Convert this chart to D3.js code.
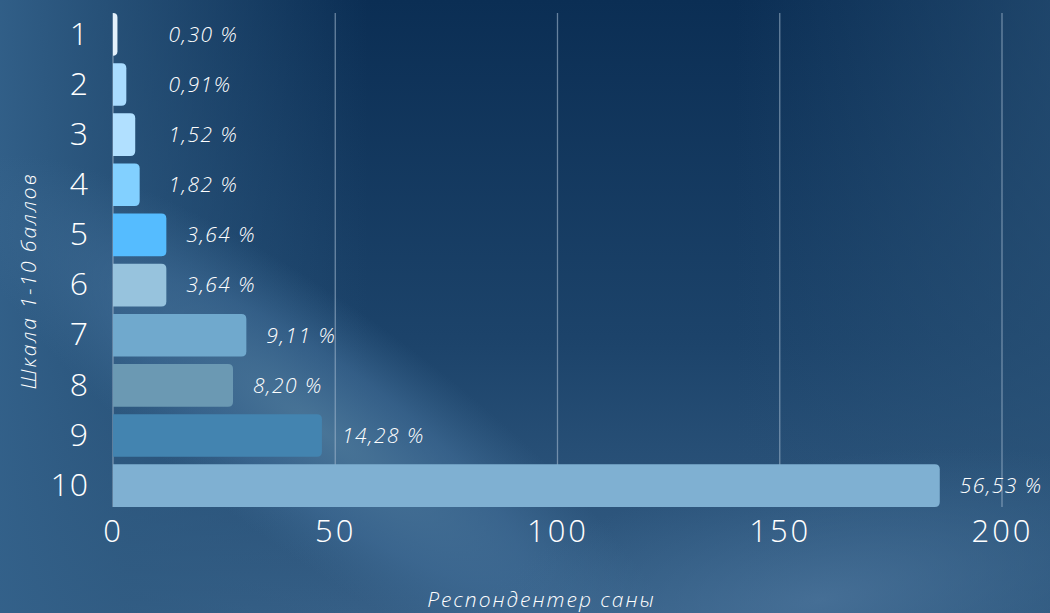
<!DOCTYPE html>
<html>
<head>
<meta charset="utf-8">
<script src="https://cdn.jsdelivr.net/npm/d3@7"></script>
<style>
  html, body { margin: 0; padding: 0; background: #0b2d52; }
  svg { display: block; font-family: "Open Sans", "Noto Sans", sans-serif; }
</style>
</head>
<body>
<div id="chart"></div>
<script>
const categories = ['1', '2', '3', '4', '5', '6', '7', '8', '9', '10'];
const counts = [1, 3, 5, 6, 12, 12, 30, 27, 47, 186];
const shares = ['0,30 %', '0,91%', '1,52 %', '1,82 %', '3,64 %', '3,64 %', '9,11 %', '8,20 %', '14,28 %', '56,53 %'];
const bar_colors = ['#e4f1fb', '#a9dcff', '#b1e0ff', '#82d0ff', '#55bcff', '#97c3dd', '#70a9cd', '#6b99b3', '#4384b0', '#7fb0d2'];
const x_ticks = [0, 50, 100, 150, 200];

const WIDTH = 1050;
const HEIGHT = 613;
const LEFT = 113;
const RIGHT = 1002;
const TOP = 13;
const BOTTOM = 507;

let svg = d3.select('#chart').append('svg')
  .attr('width', WIDTH)
  .attr('height', HEIGHT);

// background: dark navy with a soft lighter diagonal band
let defs = svg.append('defs');

let base = defs.append('linearGradient')
  .attr('id', 'bg-base')
  .attr('x1', 0).attr('y1', 0).attr('x2', 0).attr('y2', 1);
base.append('stop').attr('offset', '0%').attr('stop-color', '#0b2e54');
base.append('stop').attr('offset', '55%').attr('stop-color', '#1c436a');
base.append('stop').attr('offset', '100%').attr('stop-color', '#365f86');

let side = defs.append('linearGradient')
  .attr('id', 'bg-side')
  .attr('x1', 0).attr('y1', 0).attr('x2', 1).attr('y2', 0);
side.append('stop').attr('offset', '0%').attr('stop-color', '#33618a').attr('stop-opacity', 0.95);
side.append('stop').attr('offset', '12%').attr('stop-color', '#2f5b82').attr('stop-opacity', 0.7);
side.append('stop').attr('offset', '35%').attr('stop-color', '#2f5b82').attr('stop-opacity', 0);

let right_side = defs.append('linearGradient')
  .attr('id', 'bg-right')
  .attr('x1', 0).attr('y1', 0).attr('x2', 1).attr('y2', 0);
right_side.append('stop').attr('offset', '70%').attr('stop-color', '#2b5479').attr('stop-opacity', 0);
right_side.append('stop').attr('offset', '100%').attr('stop-color', '#2b5479').attr('stop-opacity', 0.6);

let band = defs.append('radialGradient')
  .attr('id', 'bg-band');
band.append('stop').attr('offset', '0%').attr('stop-color', '#4b7799').attr('stop-opacity', 0.95);
band.append('stop').attr('offset', '55%').attr('stop-color', '#43709a').attr('stop-opacity', 0.55);
band.append('stop').attr('offset', '100%').attr('stop-color', '#3d6a92').attr('stop-opacity', 0);

let corner = defs.append('radialGradient')
  .attr('id', 'bg-corner');
corner.append('stop').attr('offset', '0%').attr('stop-color', '#4a739a').attr('stop-opacity', 0.8);
corner.append('stop').attr('offset', '100%').attr('stop-color', '#3d6a92').attr('stop-opacity', 0);

let bg = svg.append('g');
bg.append('rect').attr('width', WIDTH).attr('height', HEIGHT).attr('fill', 'url(#bg-base)');
bg.append('rect').attr('width', WIDTH).attr('height', HEIGHT).attr('fill', 'url(#bg-side)');
bg.append('rect').attr('width', WIDTH).attr('height', HEIGHT).attr('fill', 'url(#bg-right)');
bg.append('ellipse')
  .attr('cx', 0).attr('cy', 0).attr('rx', 440).attr('ry', 120)
  .attr('transform', 'translate(320,430) rotate(36)')
  .attr('fill', 'url(#bg-band)');
bg.append('ellipse')
  .attr('cx', 0).attr('cy', 0).attr('rx', 380).attr('ry', 140)
  .attr('transform', 'translate(820,600) rotate(-10)')
  .attr('fill', 'url(#bg-corner)');

let x = d3.scaleLinear().domain([0, 200]).range([LEFT, RIGHT]);
let y = d3.scaleBand().domain(categories).range([TOP, BOTTOM]).paddingInner(0.15).paddingOuter(0);

let rows = categories.map((c, i) => ({ cat: c, count: counts[i], share: shares[i], color: bar_colors[i] }));

// grid lines
svg.append('g')
  .selectAll('line')
  .data(x_ticks.slice(1))
  .enter().append('line')
  .attr('x1', (d) => x(d)).attr('x2', (d) => x(d))
  .attr('y1', TOP).attr('y2', BOTTOM)
  .attr('stroke', '#a3b9ce')
  .attr('stroke-opacity', 0.6)
  .attr('stroke-width', 1.3);

// axis line at zero
svg.append('line')
  .attr('x1', x(0)).attr('x2', x(0))
  .attr('y1', TOP).attr('y2', BOTTOM)
  .attr('stroke', '#b8c8d8')
  .attr('stroke-opacity', 0.7);

// bars: flat on the left, rounded on the right
let r = 5;
svg.append('g')
  .selectAll('path')
  .data(rows)
  .enter().append('path')
  .attr('d', (d) => {
    let x0 = x(0), x1 = x(d.count), y0 = y(d.cat), h = y.bandwidth();
    let rr = Math.min(r, (x1 - x0));
    return 'M' + x0 + ',' + y0
      + 'H' + (x1 - rr)
      + 'Q' + x1 + ',' + y0 + ' ' + x1 + ',' + (y0 + rr)
      + 'V' + (y0 + h - rr)
      + 'Q' + x1 + ',' + (y0 + h) + ' ' + (x1 - rr) + ',' + (y0 + h)
      + 'H' + x0 + 'Z';
  })
  .attr('fill', (d) => d.color);

// value labels
svg.append('g')
  .selectAll('text')
  .data(rows)
  .enter().append('text')
  .attr('x', (d) => x(Math.max(d.count, 8)) + 20)
  .attr('y', (d) => y(d.cat) + y.bandwidth() / 2)
  .attr('dy', '0.35em')
  .attr('fill', '#ffffff')
  .style('font-size', '21px')
  .style('font-weight', 300)
  .style('font-style', 'italic')
  .style('letter-spacing', '1.5px')
  .text((d) => d.share);

// category axis
let y_axis = svg.append('g')
  .attr('transform', 'translate(89,0)')
  .call(d3.axisLeft(y).tickSize(0).tickPadding(0));
y_axis.select('.domain').remove();
y_axis.selectAll('text')
  .attr('fill', '#ffffff')
  .style('font-size', '32px')
  .style('font-weight', 300)
  .style('letter-spacing', '1px')
  .style('font-family', '"Open Sans", sans-serif');

// value axis
let x_axis = svg.append('g')
  .attr('transform', 'translate(0,' + 520 + ')')
  .call(d3.axisBottom(x).tickValues(x_ticks).tickSize(0).tickPadding(0));
x_axis.select('.domain').remove();
x_axis.selectAll('text')
  .attr('fill', '#ffffff')
  .attr('dy', '0.71em')
  .style('font-size', '31px')
  .style('font-weight', 300)
  .style('letter-spacing', '3px')
  .style('font-family', '"Open Sans", sans-serif');

// axis titles
svg.append('text')
  .attr('x', (LEFT + RIGHT) / 2 - 16)
  .attr('y', 607)
  .attr('text-anchor', 'middle')
  .attr('fill', '#ffffff')
  .style('font-size', '21px')
  .style('font-weight', 300)
  .style('font-style', 'italic')
  .style('letter-spacing', '2px')
  .text('Респондентер саны');

svg.append('text')
  .attr('transform', 'translate(36,281) rotate(-90)')
  .attr('text-anchor', 'middle')
  .attr('fill', '#ffffff')
  .style('font-size', '21px')
  .style('font-weight', 300)
  .style('font-style', 'italic')
  .style('letter-spacing', '2px')
  .text('Шкала 1-10 баллов');
</script>
</body>
</html>
